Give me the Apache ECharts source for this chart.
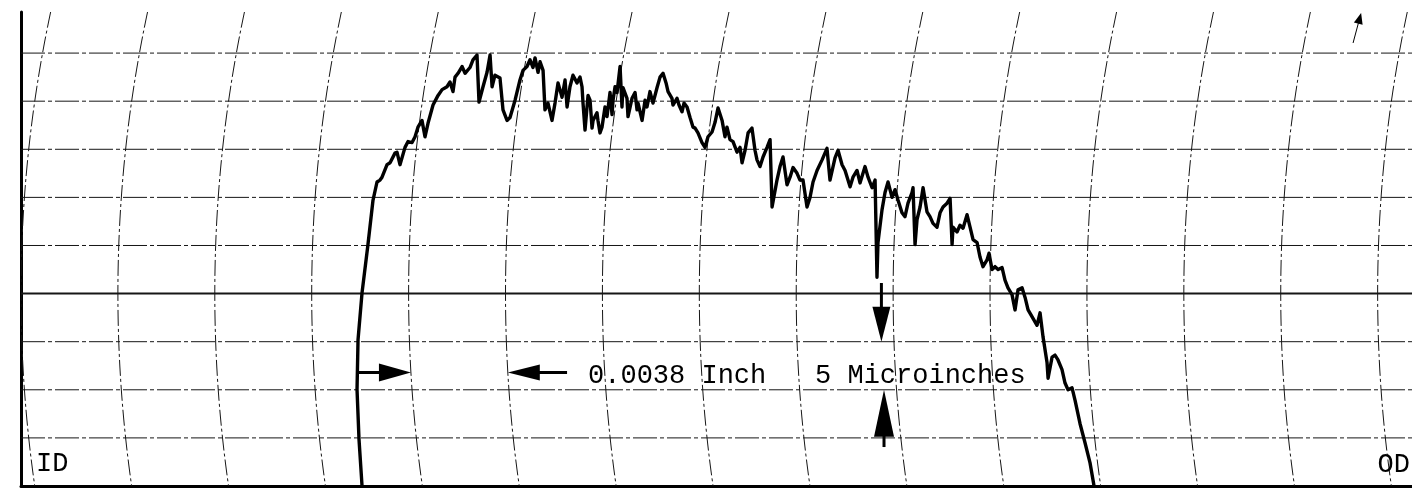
<!DOCTYPE html>
<html>
<head>
<meta charset="utf-8">
<script src="https://cdn.jsdelivr.net/npm/echarts@6/dist/echarts.min.js"></script>
<style>
  html, body { margin: 0; padding: 0; background: #ffffff; }
  #chart { width: 1412px; height: 491px; }
</style>
</head>
<body>
<div id="chart"></div>
<script>
// Surface profile trace across the land, ID (left) to OD (right).
// Radial position along the surface, micrometres.
const positionUm = [
  339.7, 336.7, 334.7, 335.7, 339.7, 345.6, 350.6, 354.6, 357.6, 359.6,
  364.6, 367.6, 372.5, 374.5, 377.5, 382.5, 385.5, 389.5, 392.5, 395.4,
  399.4, 402.4, 405.4, 410.4, 415.4, 419.4, 424.3, 427.3, 430.3, 432.3,
  435.3, 439.3, 442.3, 447.2, 450.2, 454.2, 456.2, 460.2, 464.2, 467.2,
  469.2, 472.1, 477.1, 480.1, 484.1, 487.1, 492.1, 497.0, 500.0, 504.0,
  507.0, 510.0, 512.0, 515.0, 517.0, 520.0, 521.9, 524.9, 528.9, 531.9,
  534.9, 538.9, 541.9, 543.9, 546.8, 549.8, 553.8, 556.8, 558.8, 559.8,
  561.8, 563.8, 564.8, 566.8, 568.8, 569.8, 573.7, 574.7, 576.7, 578.7,
  581.7, 583.7, 586.7, 588.7, 589.7, 591.7, 593.7, 596.7, 598.6, 599.6,
  603.6, 604.6, 608.6, 611.6, 613.6, 614.6, 618.6, 621.6, 623.5, 626.5,
  629.5, 633.5, 636.5, 639.5, 642.5, 644.5, 648.4, 649.4, 653.4, 655.4,
  658.4, 660.4, 663.4, 666.4, 669.4, 671.4, 674.3, 678.3, 681.3, 684.3,
  688.3, 691.3, 694.3, 698.3, 701.2, 703.2, 706.2, 709.2, 713.2, 716.2,
  718.2, 721.2, 724.2, 728.1, 731.1, 733.1, 736.1, 739.1, 743.1, 746.1,
  748.1, 749.1, 753.0, 756.0, 759.0, 763.0, 766.0, 769.0, 773.0, 775.9,
  778.9, 782.9, 785.9, 788.9, 792.9, 797.9, 802.8, 805.8, 810.8, 813.8,
  817.8, 820.8, 825.8, 828.7, 832.7, 835.7, 840.7, 843.7, 847.7, 850.7,
  852.6, 853.6, 857.6, 860.6, 863.6, 867.6, 870.6, 873.6, 877.5, 880.5,
  883.5, 887.5, 888.5, 890.5, 892.5, 895.5, 898.5, 902.4, 905.4, 908.4,
  912.4, 915.4, 918.4, 922.4, 925.4, 927.4, 928.3, 932.3, 935.3, 938.3,
  942.3, 945.3, 948.3, 952.3, 955.2, 958.2, 962.2, 964.2, 967.2, 970.2,
  973.2, 977.2, 980.1, 983.1, 987.1, 990.1, 993.1, 997.1, 1000.1, 1003.1,
  1007.0, 1012.0, 1015.0, 1018.0, 1022.0, 1023.0, 1027.0, 1029.9, 1032.9, 1036.9,
  1039.9, 1042.9, 1046.9, 1049.9, 1054.8, 1059.8, 1064.8, 1068.8
];
// Trace height, microinches.
const heightUin = [
  0, 4.8, 10.0, 15.2, 20.1, 25.1, 29.7, 31.6, 31.8, 32.1,
  33.4, 33.6, 34.6, 34.7, 33.4, 35.2, 35.8, 35.7, 36.3, 37.3,
  38.0, 36.3, 37.7, 39.6, 40.6, 41.2, 41.5, 42.0, 41.0, 42.5,
  42.9, 43.6, 42.9, 43.5, 44.3, 44.8, 39.9, 41.5, 43.0, 44.8,
  41.5, 42.7, 42.4, 39.1, 38.0, 38.3, 40.1, 42.2, 43.2, 43.6,
  44.3, 43.5, 44.5, 43.0, 44.1, 43.2, 39.1, 39.8, 38.0, 39.8,
  41.9, 40.4, 42.2, 39.4, 41.5, 42.7, 41.9, 42.5, 41.5, 39.8,
  37.0, 39.4, 40.6, 40.1, 37.2, 38.0, 38.8, 38.0, 36.7, 37.3,
  39.4, 38.4, 40.9, 38.6, 40.1, 41.5, 40.9, 43.6, 39.4, 41.4,
  40.3, 38.4, 40.3, 40.9, 39.1, 39.8, 38.0, 40.1, 39.4, 41.0,
  39.8, 41.4, 42.5, 42.9, 41.9, 41.0, 40.3, 39.6, 40.3, 39.6,
  38.9, 39.8, 39.4, 38.3, 37.3, 37.2, 36.7, 35.7, 35.2, 36.3,
  36.8, 37.8, 39.3, 38.0, 36.3, 37.3, 36.0, 35.8, 34.7, 35.2,
  33.6, 34.9, 36.7, 37.2, 34.9, 33.9, 33.2, 34.2, 35.2, 36.0,
  29.0, 29.0, 31.8, 33.2, 34.2, 31.3, 32.1, 33.1, 32.5, 31.8,
  31.8, 29.0, 30.0, 31.6, 32.8, 33.9, 35.1, 31.8, 34.1, 34.9,
  33.4, 32.8, 31.1, 32.1, 32.8, 31.5, 33.2, 32.1, 31.0, 31.8,
  21.7, 25.3, 28.7, 30.5, 31.6, 30.0, 30.8, 29.7, 28.4, 28.0,
  29.4, 30.5, 31.0, 25.1, 27.7, 29.0, 31.0, 28.5, 28.0, 27.3,
  26.9, 28.4, 29.0, 29.4, 29.9, 25.1, 26.9, 26.4, 27.1, 26.8,
  28.2, 26.9, 25.6, 25.3, 23.8, 22.8, 23.5, 24.2, 22.5, 22.8,
  22.5, 22.7, 21.4, 20.6, 19.9, 18.3, 20.4, 20.6, 19.6, 18.3,
  17.6, 16.7, 18.0, 15.5, 12.8, 11.2, 13.4, 13.6, 13.1, 12.1,
  10.7, 10.0, 10.2, 8.9, 6.5, 4.5, 2.4, 0
];

// Chart paper scales: one horizontal division = 0.0038 in, one vertical division = 5 microinches.
const DIV_INCH = 0.0038;
const DIV_UM = DIV_INCH * 25400;
const DIV_UIN = 5;
const X_MAX = 1385.5;
const Y_MAX = 49.27;
// Curved time lines of the paper (one per horizontal division), and the ruled heights.
const arcIndex = [0, 1, 2, 3, 4, 5, 6, 7, 8, 9, 10, 11, 12, 13, 14];
const ruleHeights = [5, 10, 15, 20, 25, 30, 35, 40, 45];
const ARC_CENTER_UIN = 20;   // height where the pen arcs are vertical
const ARC_RADIUS_UM = 1347;  // pen-arm radius in horizontal units

const INK = '#161616';
const FONT = '27px "Liberation Mono", "DejaVu Sans Mono", monospace';

function arcOffset(R, dy) {
  return R - Math.sqrt(Math.max(0, R * R - dy * dy));
}

function renderArc(params, api) {
  const c = api.coord([api.value(0), ARC_CENTER_UIN]);
  const yTop = api.coord([0, Y_MAX])[1];
  const yBot = api.coord([0, 0])[1];
  const R = api.size([ARC_RADIUS_UM, 0])[0];
  const pts = [];
  for (let y = yTop; y < yBot; y += 3) pts.push([c[0] + arcOffset(R, y - c[1]), y]);
  pts.push([c[0] + arcOffset(R, yBot - c[1]), yBot]);
  return {
    type: 'polyline',
    shape: { points: pts },
    style: { stroke: INK, lineWidth: 1, lineDash: [16, 3, 3, 3], fill: null }
  };
}

function renderRule(params, api) {
  const h = api.value(1);
  const a = api.coord([0, h]);
  const b = api.coord([X_MAX, h]);
  const heavy = h === ARC_CENTER_UIN;
  return {
    type: 'line',
    shape: { x1: a[0], y1: a[1], x2: b[0], y2: b[1] },
    style: { stroke: INK, lineWidth: heavy ? 2 : 1, lineDash: heavy ? null : [24, 3, 4, 3] }
  };
}

function arrow(tail, tip, headLen, headHalf, shaftW) {
  const dx = tip[0] - tail[0], dy = tip[1] - tail[1];
  const L = Math.hypot(dx, dy);
  const ux = dx / L, uy = dy / L;
  const nx = -uy, ny = ux;
  const base = [tip[0] - ux * headLen, tip[1] - uy * headLen];
  return [
    { type: 'line', shape: { x1: tail[0], y1: tail[1], x2: base[0] + ux * 2, y2: base[1] + uy * 2 },
      style: { stroke: '#000', lineWidth: shaftW } },
    { type: 'polygon', shape: { points: [tip, [base[0] + nx * headHalf, base[1] + ny * headHalf], [base[0] - nx * headHalf, base[1] - ny * headHalf]] },
      style: { fill: '#000' } }
  ];
}

function renderNotes(params, api) {
  const R = api.size([ARC_RADIUS_UM, 0])[0];
  const hY = 11.8;
  const textY = 11.45;
  const tipOnArc = (k) => {
    const c = api.coord([k * DIV_UM, ARC_CENTER_UIN]);
    const p = api.coord([k * DIV_UM, hY]);
    return [c[0] + arcOffset(R, p[1] - c[1]), p[1]];
  };
  const children = [];
  // one-division span: 0.0038 inch between arcs 4 and 5
  children.push(...arrow(api.coord([335.7, hY]), tipOnArc(4), 32, 9, 3));
  children.push(...arrow(api.coord([543.9, hY]), tipOnArc(5), 32, 8, 3));
  // one-division height: 5 microinches between 15 and 10
  children.push(...arrow(api.coord([857.0, 21.1]), api.coord([857.0, 3 * DIV_UIN]), 35, 9, 3));
  children.push(...arrow(api.coord([859.6, 4.05]), api.coord([859.6, 2 * DIV_UIN]), 47, 10, 3));
  // small mark at the top right
  children.push(...arrow(api.coord([1326.8, 46.05]), api.coord([1334.8, 49.17]), 11, 4.5, 1));

  const label = (text, x, y, align) => {
    const p = api.coord([x, y]);
    return { type: 'text', x: p[0], y: p[1],
      style: { text: text, fill: '#000', font: FONT, align: align, verticalAlign: 'middle' } };
  };
  children.push(label(DIV_INCH + ' Inch', 564.8, textY, 'left'));
  children.push(label(DIV_UIN + ' Microinches', 790.9, textY, 'left'));
  children.push(label('ID', 14.9, 2.3, 'left'));
  children.push(label('OD', 1383.5, 2.2, 'right'));
  return { type: 'group', children: children };
}

const chart = echarts.init(document.getElementById('chart'), null, { renderer: 'canvas' });
chart.setOption({
  backgroundColor: '#ffffff',
  animation: false,
  grid: { left: 21, right: 0, top: 12, bottom: 5 },
  xAxis: [
    { type: 'value', min: 0, max: X_MAX, position: 'bottom',
      axisLine: { show: true, onZero: false, lineStyle: { color: '#000', width: 3 } },
      axisTick: { show: false }, axisLabel: { show: false }, splitLine: { show: false } },
    { type: 'value', min: 0, max: X_MAX, position: 'top',
      axisLine: { show: true, lineStyle: { color: '#000', width: 2 } },
      axisTick: { show: false }, axisLabel: { show: false }, splitLine: { show: false } }
  ],
  yAxis: {
    type: 'value', min: 0, max: Y_MAX,
    axisLine: { show: true, onZero: false, lineStyle: { color: '#000', width: 3 } },
    axisTick: { show: false }, axisLabel: { show: false }, splitLine: { show: false }
  },
  series: [
    { type: 'custom', name: 'arcs', renderItem: renderArc, clip: true, z: 1, silent: true,
      data: arcIndex.map(k => [k * DIV_UM, ARC_CENTER_UIN]) },
    { type: 'custom', name: 'rules', renderItem: renderRule, clip: true, z: 1, silent: true,
      data: ruleHeights.map(h => [0, h]) },
    { type: 'line', name: 'profile', z: 3, symbol: 'none', silent: true,
      lineStyle: { color: '#000', width: 3.4, join: 'round', cap: 'round' },
      data: positionUm.map((x, i) => [x, heightUin[i]]) },
    { type: 'custom', name: 'notes', renderItem: renderNotes, clip: false, z: 4, silent: true,
      data: [[0, 0]] }
  ]
});
</script>
</body>
</html>
